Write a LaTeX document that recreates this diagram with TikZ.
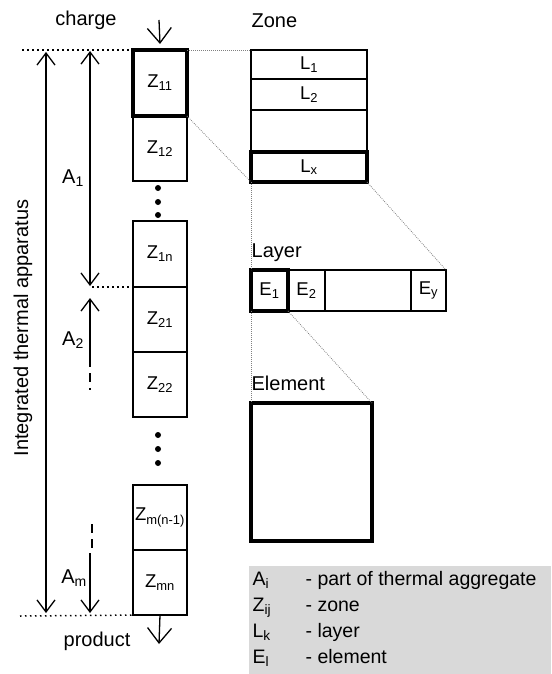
\documentclass[tikz,border=0pt]{standalone}
\usepackage{fontspec}
\setmainfont{Liberation Sans}
\usepackage{tikz}
\usetikzlibrary{arrows.meta,positioning}

\definecolor{legendgray}{RGB}{217,217,217}

\begin{document}
\begin{tikzpicture}[x=1pt,y=-1pt,>={Straight Barb[length=12pt,width=18pt]},
                    line width=1.3pt,
                    flow/.style={-{Straight Barb[length=15pt,width=24pt]}}]
  \tikzstyle{cell}=[draw,rectangle,inner sep=0pt,outer sep=0pt,line width=1.6pt,
                    font=\fontsize{18.5}{20}\selectfont]
  \tikzstyle{bold cell}=[cell,line width=3.6pt]
  \tikzstyle{zone cell}=[minimum width=54pt,minimum height=65pt]
  \tikzstyle{word}=[inner sep=0pt,font=\fontsize{20}{24}\selectfont]
  \tikzstyle{key}=[anchor=base west,inner sep=0pt,font=\fontsize{19.5}{23}\selectfont]
  \tikzstyle{dotline}=[line width=1.5pt,dash pattern=on 1.5pt off 3.5pt]
  \tikzstyle{broken}=[dash pattern=on 9pt off 6pt]
  \tikzstyle{zoomline}=[gray,line width=0.8pt,dash pattern=on 0.8pt off 1.2pt]

  \useasboundingbox (0,0) rectangle (551,674);

  % apparatus column
  \node[bold cell,zone cell,minimum height=66pt] (z11) at (160,83) {Z\textsubscript{11}};
  \node[cell,zone cell,below=0pt of z11] (z12) {Z\textsubscript{12}};
  \node[cell,zone cell,minimum height=66pt] (z1n) at (160,254) {Z\textsubscript{1n}};
  \node[cell,zone cell,below=0pt of z1n] (z21) {Z\textsubscript{21}};
  \node[cell,zone cell,below=0pt of z21] (z22) {Z\textsubscript{22}};
  \node[cell,zone cell] (zmn1) at (160,517.5) {Z\textsubscript{m(n-1)}};
  \node[cell,zone cell,below=0pt of zmn1] (zmn) {Z\textsubscript{mn}};

  \foreach \y in {188,202,215,435,449,463}
    \fill (158,\y) circle (3pt);

  % charge and product
  \node[word,anchor=base] (charge) at (86,26) {charge};
  \node[word,anchor=base] (product) at (97,646) {product};
  \coordinate (feed) at (159,20);
  \coordinate (out) at (159,644);
  \draw[flow] (feed) -- ([yshift=6pt]z11.north);
  \draw[flow] (zmn.south) -- (out);

  % dotted limits
  \coordinate (top dots) at (22,50);
  \coordinate (mid dots) at (92,287);
  \coordinate (bot dots) at (20,616);
  \draw[dotline] (top dots) -- (z11.north west);
  \draw[dotline] (mid dots) -- (z1n.south west);
  \draw[dotline] (bot dots) -- ([xshift=12pt]zmn.south west);

  % whole apparatus
  \coordinate (app top) at (46,52);
  \coordinate (app bot) at (46,613);
  \draw[<->] (app top) -- (app bot);
  \node[word,rotate=90] (app) at (23,328) {Integrated thermal apparatus};

  % parts
  \coordinate (a1 top) at (90,51);
  \coordinate (a1 bot) at (90,286);
  \draw[<->] (a1 top) -- (a1 bot);
  \node[word,anchor=base] (a1) at (73,183) {A\textsubscript{1}};

  \coordinate (a2 top) at (90,298);
  \coordinate (a2 mid) at (90,358);
  \coordinate (a2 end) at (90,390);
  \draw[<-] (a2 top) -- (a2 mid);
  \draw[broken] (a2 mid) -- (a2 end);
  \node[word,anchor=base] (a2) at (73,345) {A\textsubscript{2}};

  \coordinate (am start) at (92,524);
  \coordinate (am mid) at (92,553);
  \coordinate (am bot) at (90,613);
  \draw[broken] (am start) -- (am mid);
  \draw[->] (am mid -| am bot) -- (am bot);
  \node[word,anchor=base] (am) at (74,583) {A\textsubscript{m}};

  % zone
  \node[word,anchor=base west] (zone) at (251,28) {Zone};
  \node[cell,minimum width=116pt,minimum height=29pt] (l1) at (309,64.5) {L\textsubscript{1}};
  \node[cell,minimum width=116pt,minimum height=31pt,below=0pt of l1] (l2) {L\textsubscript{2}};
  \node[cell,minimum width=116pt,minimum height=42pt,below=0pt of l2] (lgap) {};
  \node[bold cell,minimum width=116pt,minimum height=30pt,below=0pt of lgap] (lx) {L\textsubscript{x}};

  % layer
  \node[word,anchor=base west] (layer) at (251,257) {Layer};
  \node[bold cell,minimum width=37pt,minimum height=41pt] (e1) at (269.5,290.5) {E\textsubscript{1}};
  \node[cell,minimum width=37pt,minimum height=41pt,right=0pt of e1] (e2) {E\textsubscript{2}};
  \node[cell,minimum width=86pt,minimum height=41pt,right=0pt of e2] (egap) {};
  \node[cell,minimum width=35pt,minimum height=41pt,right=0pt of egap] (ey) {E\textsubscript{y}};

  % element
  \node[word,anchor=base west] (element) at (251,390) {Element};
  \node[bold cell,minimum width=121pt,minimum height=138pt] (elem) at (311.5,472) {};

  % zoom lines
  \draw[zoomline] (z11.north east) -- (l1.north west);
  \draw[zoomline] (z11.south east) -- (lx.south west);
  \draw[zoomline] (lx.south west) -- (e1.north west);
  \draw[zoomline] (lx.south east) -- (ey.north east);
  \draw[zoomline] (e1.south west) -- (elem.north west);
  \draw[zoomline] (e1.south east) -- (elem.north east);

  % legend
  \fill[legendgray] (249,566) rectangle (551,674);
  \node[key] (ka) at (252,585) {A\textsubscript{i}};
  \node[key] (ta) at (305,585) {- part of thermal aggregate};
  \node[key] (kz) at (252,611) {Z\textsubscript{ij}};
  \node[key] (tz) at (305,611) {- zone};
  \node[key] (kl) at (252,637) {L\textsubscript{k}};
  \node[key] (tl) at (305,637) {- layer};
  \node[key] (ke) at (252,663) {E\textsubscript{l}};
  \node[key] (te) at (305,663) {- element};

\end{tikzpicture}
\end{document}
